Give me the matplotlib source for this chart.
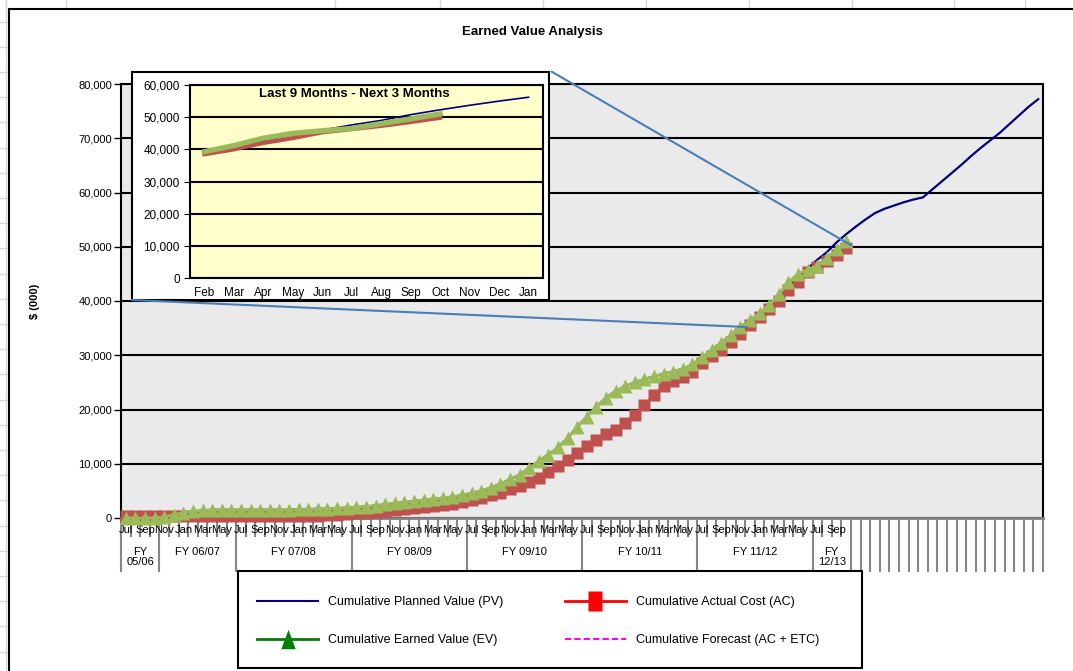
"""Earned value analysis chart with a 12 month zoom inset."""

import matplotlib

matplotlib.use("Agg")
import matplotlib.pyplot as plt
from matplotlib.lines import Line2D
from matplotlib.patches import Rectangle, ConnectionPatch
from matplotlib.ticker import FuncFormatter

plt.rcParams["font.family"] = ["Liberation Sans", "DejaVu Sans"]

W, H = 1073, 671  # output size in pixels

MONTH_NAMES = ["Jul", "Aug", "Sep", "Oct", "Nov", "Dec",
               "Jan", "Feb", "Mar", "Apr", "May", "Jun"]
N_MONTHS = 96  # Jul 05 .. Jun 13 on the axis
FY_LABELS = ["FY\n05/06", "FY 06/07", "FY 07/08", "FY 08/09",
             "FY 09/10", "FY 10/11", "FY 11/12", "FY\n12/13"]
FY_SIZES = [4, 8, 12, 12, 12, 12, 12, 4]  # months in each group

# cumulative planned value, $ (000)
pv = [0, 0, 0, 0,
      200, 500, 900, 1200, 1400,
      1500, 1500, 1500, 1500, 1500, 1500, 1500, 1500, 1500,
      1600, 1600, 1700, 1700, 1800, 1900, 2000, 2100,
      2300, 2500, 2700, 2900, 3100, 3300, 3500, 3700, 3900, 4200,
      4600, 5000, 5600, 6300, 7100, 8000, 9200, 10500, 11700, 13000,
      14700, 16800, 18700, 20500, 22200, 23400, 24300, 25000, 25600, 26100,
      26600, 27000, 27500, 28300, 29600, 31000, 32300, 33700, 35200, 36500, 37700,
      38500, 40500, 42800, 44500, 46000,
      47600, 49000, 50800, 52300, 53700, 55000, 56200,
      57000, 57600, 58200, 58700, 59100, 60600, 62100, 63600, 65100,
      66700, 68200, 69600, 71000, 72600, 74200, 75800, 77200]

# cumulative earned value
ev = [0, 0, 0, 0,
      200, 600, 1000, 1300, 1400,
      1500, 1500, 1500, 1500, 1500, 1500, 1500, 1500, 1500,
      1600, 1600, 1700, 1700, 1800, 1900, 2000, 2100,
      2300, 2500, 2700, 2900, 3100, 3300, 3500, 3700, 3900, 4200,
      4600, 5000, 5600, 6300, 7100, 8000, 9200, 10500, 11700, 13000,
      14700, 16800, 18700, 20500, 22200, 23400, 24300, 25000, 25600, 26100,
      26600, 27000, 27500, 28300, 29600, 31000, 32300, 33700, 35200, 36500, 37800,
      39300, 41200, 43500, 45000, 45800, 46500, 48000, 49500, 51000]

# cumulative actual cost
ac = [450, 450, 450, 450, 450, 450, 450, 450, 450, 450, 450,
      450, 450, 450, 450, 450, 450, 450, 450, 450, 450,
      500, 600, 800, 900, 1000, 1100, 1300, 1450, 1600, 1800,
      2000, 2200, 2400, 2600, 2900, 3300, 3700, 4200, 4700, 5300,
      5900, 6600, 7400, 8400, 9500, 10700, 12000, 13200, 14400, 15500,
      16300, 17600, 19000, 20800, 22600, 24300, 25300, 26000, 27000, 28600,
      29800, 31000, 32400, 34000, 35600, 37000,
      38500, 40000, 42000, 43500, 45300, 46300, 47300, 48500, 49800]

INSET_START = 67  # Feb, first month of the "last 9 months" window
INSET_LEN = 12

assert len(pv) == N_MONTHS and len(ev) == 76 and len(ac) == 76


def fx(x):
    return x / W


def fy(y):
    return 1 - y / H


fig = plt.figure(figsize=(W / 100, H / 100), dpi=100)

# spreadsheet cells behind the chart object
grid_c = "#D0D7E5"
for x in [6, 66, 335, 440, 543, 646, 749, 852, 954, 1025]:
    fig.add_artist(Line2D([fx(x), fx(x)], [fy(0), fy(9)], color=grid_c, lw=1,
                          transform=fig.transFigure, zorder=-5))
fig.add_artist(Line2D([fx(6), fx(6)], [0, 1], color=grid_c, lw=1,
                      transform=fig.transFigure, zorder=-5))
y = 21.6
while y < H:
    fig.add_artist(Line2D([0, fx(10)], [fy(y), fy(y)], color=grid_c, lw=1,
                          transform=fig.transFigure, zorder=-5))
    y += 25.2
fig.add_artist(Rectangle((fx(9), -0.1), 1.2, fy(9) + 0.1, transform=fig.transFigure,
                         fc="white", ec="black", lw=1.5, zorder=-4))

fig.text(fx(532), fy(32.5), "Earned Value Analysis", ha="center", va="center",
         fontsize=9.5, fontweight="bold")
fig.text(fx(35), fy(301), "$ (000)", rotation=90, ha="center", va="center",
         fontsize=8, fontweight="bold")

# main chart
ax = fig.add_axes([fx(121), fy(518), (1043 - 121) / W, (518 - 84) / H])
ax.set_facecolor("#EAEAEA")
ax.set_xlim(-0.5, N_MONTHS - 0.5)
ax.set_ylim(0, 80000)
ax.set_yticks(range(0, 80001, 10000))
ax.yaxis.set_major_formatter(FuncFormatter(lambda v, _: f"{v:,.0f}"))
ax.grid(axis="y", color="black", lw=1.5)
ax.set_axisbelow(True)
for side in ["top", "right", "left"]:
    ax.spines[side].set_linewidth(1.5)
ax.spines["bottom"].set_color("#808080")
ax.spines["bottom"].set_linewidth(2)
ax.tick_params(axis="y", labelsize=8, length=5, width=1, pad=1.5)

months = list(range(N_MONTHS))
ax.plot(months, pv, color="#000080", lw=1.6, zorder=2)
ax.plot(months[:len(ac)], ac, color="#C0504D", lw=2, marker="s", ms=8,
        mec="none", zorder=3, clip_on=False)
ax.plot(months[:len(ev)], ev, color="#9BBB59", lw=2, marker="^", ms=10,
        mec="none", zorder=4, clip_on=False)

# two level category axis
labelled = range(0, len(ev), 2)
ax.set_xticks(list(labelled))
ax.set_xticklabels([MONTH_NAMES[k % 12] for k in labelled])
ax.tick_params(axis="x", length=0, pad=5, labelsize=8)

xt = ax.get_xaxis_transform()
sep_c = "#868686"
bounds = [-0.5]
for n in FY_SIZES:
    bounds.append(bounds[-1] + n)
short = [k - 0.5 for k in range(len(ev)) if k - 0.5 not in bounds]
long_ = bounds + [k + 0.5 for k in range(len(ev), N_MONTHS)]
ax.vlines(short, 0, -0.044, transform=xt, color=sep_c, lw=1.5, clip_on=False,
          zorder=0.3)
ax.vlines(long_, 0, -0.124, transform=xt, color=sep_c, lw=1.5, clip_on=False,
          zorder=0.3)
for lab, lo, hi in zip(FY_LABELS, bounds[:-1], bounds[1:]):
    ypos = -0.091 if "\n" in lab else -0.078
    ax.text((lo + hi) / 2, ypos, lab, transform=xt, ha="center", va="center",
            fontsize=8, linespacing=1.0)

# inset: last 9 months and next 3
fig.add_artist(Rectangle((fx(132), fy(300)), (549 - 132) / W, (300 - 72) / H,
                         transform=fig.transFigure, fc="white", ec="black",
                         lw=1.5, zorder=5))
ax_in = fig.add_axes([fx(189.5), fy(278.3), (543.3 - 189.5) / W, (278.3 - 85) / H])
ax_in.set_zorder(6)
ax_in.set_facecolor("#FFFFCC")
ax_in.set_xlim(-0.5, INSET_LEN - 0.5)
ax_in.set_ylim(0, 60000)
ax_in.set_yticks(range(0, 60001, 10000))
ax_in.yaxis.set_major_formatter(FuncFormatter(lambda v, _: f"{v:,.0f}"))
ax_in.set_xticks(range(INSET_LEN))
ax_in.set_xticklabels([MONTH_NAMES[(INSET_START + i) % 12] for i in range(INSET_LEN)])
ax_in.grid(axis="y", color="black", lw=1.5)
ax_in.set_axisbelow(True)
for sp in ax_in.spines.values():
    sp.set_linewidth(1.5)
ax_in.tick_params(axis="y", labelsize=8.5, length=4, pad=3)
ax_in.tick_params(axis="x", labelsize=8.5, length=0, pad=6)

win = range(INSET_LEN)
n_act = len(ev) - INSET_START
ax_in.plot(win, pv[INSET_START:INSET_START + INSET_LEN], color="#000080", lw=1.2)
ax_in.plot(list(win)[:n_act], ac[INSET_START:], color="#C0504D", lw=3)
ax_in.plot(list(win)[:n_act], ev[INSET_START:], color="#9BBB59", lw=3.8)
ax_in.text(0.465, 0.952, "Last 9 Months - Next 3 Months", transform=ax_in.transAxes,
           ha="center", va="center", fontsize=9.5, fontweight="bold")

# zoom connector lines
for corner, target in [((fx(551.7), fy(71.7)), (75.5, 50300)),
                       ((fx(132), fy(300)), (64.7, 35200))]:
    con = ConnectionPatch(xyA=corner, coordsA=fig.transFigure,
                          xyB=target, coordsB=ax.transData,
                          color="#4A7EBB", lw=1.5, zorder=7)
    fig.add_artist(con)

# legend
fig.add_artist(Rectangle((fx(238), fy(668)), (862 - 238) / W, (668 - 571) / H,
                         transform=fig.transFigure, fc="white", ec="black",
                         lw=1.5, zorder=5))
tall_square = [(-0.35, -0.5), (0.35, -0.5), (0.35, 0.5), (-0.35, 0.5), (-0.35, -0.5)]
tall_triangle = [(-0.37, -0.5), (0.37, -0.5), (0, 0.5), (-0.37, -0.5)]
handles = [
    Line2D([], [], color="#000080", lw=1.5),
    Line2D([], [], color="#008000", lw=2, marker=tall_triangle, ms=14, mec="none"),
    Line2D([], [], color="#FF0000", lw=2, marker=tall_square, ms=14, mec="none"),
    Line2D([], [], color="#FF00FF", lw=1.5, ls=(0, (3, 1.5))),
]
labels = ["Cumulative Planned Value (PV)", "Cumulative Earned Value (EV)",
          "Cumulative Actual Cost (AC)", "Cumulative Forecast (AC + ETC)"]
leg = fig.legend(handles, labels, loc="center", bbox_to_anchor=(fx(538), fy(621)),
                 ncol=2, frameon=False, fontsize=9, handlelength=4.9,
                 handletextpad=0.8, columnspacing=4.9, labelspacing=2.1)
leg.set_zorder(8)

fig.savefig("out.png", dpi=100)
